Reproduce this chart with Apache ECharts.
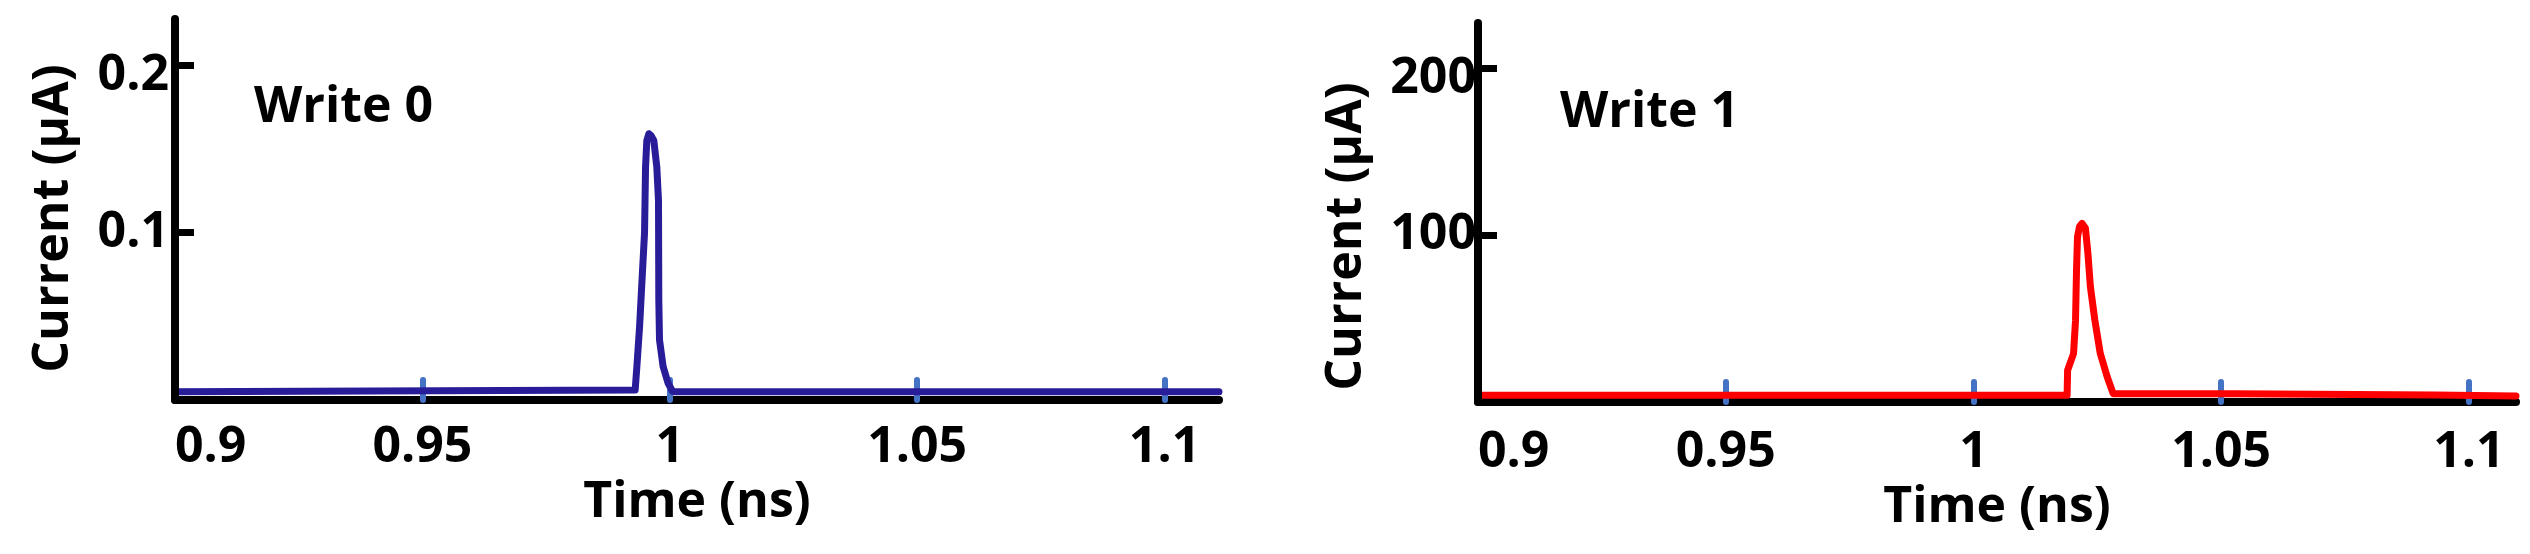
<!DOCTYPE html>
<html>
<head>
<meta charset="utf-8">
<script src="https://cdn.jsdelivr.net/npm/echarts@6/dist/echarts.min.js"></script>
<style>
  html, body { margin: 0; padding: 0; background: #ffffff; }
  #chart { width: 2530px; height: 554px; }
</style>
</head>
<body>
<div id="chart"></div>
<script>
// Write 0 pulse (time in ns, current in uA)
const write0Time = [0.9, 0.9930, 0.99335, 0.9939, 0.99436, 0.9949, 0.9951, 0.99536, 0.99577, 0.9962,
  0.99677, 0.99738, 0.99772, 0.99775, 0.99778, 0.99792, 0.99865, 0.99966, 1.0006, 1.111]
const write0Current = [0.005, 0.006, 0.020, 0.044, 0.070, 0.100, 0.139, 0.155, 0.159, 0.158,
  0.155, 0.139, 0.119, 0.090, 0.060, 0.036, 0.020, 0.010, 0.005, 0.005]

// Write 1 pulse
const write1Time = [0.9, 1.0189, 1.0190, 1.0202, 1.0206, 1.0208, 1.0210, 1.0214, 1.0219, 1.0226,
  1.0231, 1.0236, 1.0245, 1.0256, 1.0270, 1.0282, 1.0528, 1.0529, 1.0931, 1.0932, 1.1095]
const write1Current = [4.0, 4.0, 19, 29, 49, 79, 99, 105, 107, 104,
  89, 69, 49, 29, 15, 5, 5, 4.2, 4.2, 3.6, 3.6]

const timeLabels = [0.9, 0.95, 1, 1.05, 1.1]
const timeTicks = [0.95, 1, 1.05, 1.1]
const write0Ticks = [0.1, 0.2]
const write1Ticks = [100, 200]

const pairs = (xs, ys) => xs.map((x, i) => [x, ys[i]])

const font = '"Open Sans", "DejaVu Sans", sans-serif'
const bold = { fontFamily: font, fontWeight: 'bold', fontSize: 50, color: '#000' }

const makeX = (gridIndex, max, labelMargin, nameGap) => ({
  type: 'value',
  gridIndex: gridIndex,
  min: 0.9,
  max: max,
  z: 3,
  name: 'Time (ns)',
  nameLocation: 'middle',
  nameGap: nameGap,
  nameTextStyle: bold,
  axisLine: { show: true, lineStyle: { color: '#000', width: 8 } },
  axisTick: {
    show: true,
    inside: true,
    length: 20,
    customValues: timeTicks,
    lineStyle: { color: '#4472C4', width: 6, cap: 'round' },
  },
  axisLabel: {
    ...bold,
    margin: labelMargin,
    customValues: timeLabels,
    alignMinLabel: 'left',
    formatter: (v) => String(v),
  },
  splitLine: { show: false },
})

const makeY = (gridIndex, max, ticks, nameGap, namePad, labelMargin) => ({
  type: 'value',
  gridIndex: gridIndex,
  min: 0,
  max: max,
  z: 4,
  name: 'Current (μA)',
  nameLocation: 'middle',
  nameRotate: 90,
  nameGap: nameGap,
  nameTextStyle: { ...bold, padding: [0, namePad, 0, 0] },
  axisLine: { show: true, lineStyle: { color: '#000', width: 8 } },
  axisTick: {
    show: true,
    inside: true,
    length: 19,
    customValues: ticks,
    lineStyle: { color: '#000', width: 7 },
  },
  axisLabel: {
    ...bold,
    margin: labelMargin,
    customValues: ticks,
    formatter: (v) => (v === ticks[1] ? '{hi|' + v + '}' : String(v)),
    rich: { hi: { ...bold, padding: [22, 0, 0, 0] } },
  },
  splitLine: { show: false },
})

const chart = echarts.init(document.getElementById('chart'))

chart.setOption({
  backgroundColor: '#ffffff',
  animation: false,
  title: [
    { text: 'Write 0', left: 254, top: 83, padding: 0, textStyle: bold },
    { text: 'Write 1', left: 1560, top: 88, padding: 0, textStyle: bold },
  ],
  grid: [
    { left: 175, right: 1311, top: 19, bottom: 154 },
    { left: 1478, right: 14, top: 23, bottom: 152 },
  ],
  xAxis: [
    makeX(0, 1.111, 23, 78),
    makeX(1, 1.1095, 26, 76),
  ],
  yAxis: [
    makeY(0, 0.2275, write0Ticks, 96, 18, 6),
    makeY(1, 227, write1Ticks, 106, 48, 2),
  ],
  series: [
    {
      name: 'Write 0',
      type: 'line',
      xAxisIndex: 0,
      yAxisIndex: 0,
      data: pairs(write0Time, write0Current),
      symbol: 'none',
      lineStyle: { color: '#281C98', width: 7, cap: 'round', join: 'round' },
    },
    {
      name: 'Write 1',
      type: 'line',
      xAxisIndex: 1,
      yAxisIndex: 1,
      data: pairs(write1Time, write1Current),
      symbol: 'none',
      lineStyle: { color: '#FF0000', width: 7, cap: 'round', join: 'round' },
    },
  ],
})
</script>
</body>
</html>
